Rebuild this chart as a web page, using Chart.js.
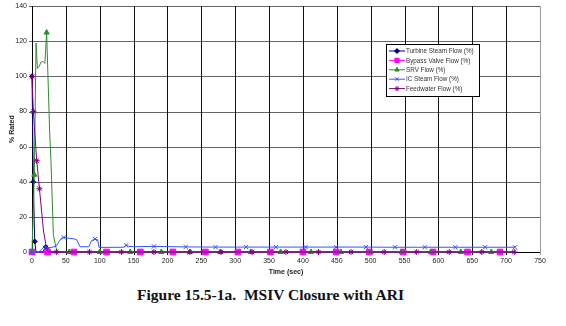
<!DOCTYPE html>
<html>
<head>
<meta charset="utf-8">
<script src="https://cdn.jsdelivr.net/npm/chart.js@4/dist/chart.umd.min.js"></script>
<style>
  html, body { margin: 0; padding: 0; background: #fff; }
  #wrap { position: relative; width: 566px; height: 326px; overflow: hidden; }
  #plot { position: absolute; left: 0; top: 0; }
  #caption {
    position: absolute; left: 137px; top: 286px;
    font: bold 15.5px "Liberation Serif", "Times New Roman", serif;
    color: #111; white-space: pre;
  }
</style>
</head>
<body>
<div id="wrap">
  <canvas id="plot" width="566" height="280"></canvas>
  <div id="caption">Figure 15.5-1a.  MSIV Closure with ARI</div>
</div>
<script>
// time in seconds, flow in % rated; *Marks = samples that get a marker
const turbineTime = [0, 2, 4, 6, 16, 20, 24, 28, 712];
const turbineFlow = [100, 40, 6, 0, 0, 2.8, 2.5, 0, 0];
const turbineMarks = [0, 2, 4, 20];

const bypassTime = [0, 23, 62, 110, 160, 208, 256, 304, 352, 400, 449, 498, 548, 592, 643, 691, 712];
const bypassFlow = [0, 0, 0, 0, 0, 0, 0, 0, 0, 0, 0, 0, 0, 0, 0, 0, 0];
const bypassMarks = [0, 23, 62, 110, 160, 208, 256, 304, 352, 400, 449, 498, 548, 592, 643, 691];

const srvTime = [0, 3.4, 6, 8, 11, 13, 16, 19, 21.6, 26, 28, 31.5, 35, 38, 55, 100, 145, 191, 233, 278, 323, 367, 412, 456, 500, 546, 589, 633, 678, 712];
const srvFlow = [0, 44, 119, 104.5, 106, 108, 108.6, 107.4, 125, 69, 52, 10, 3, 0, 0, 0, 0, 0, 0, 0, 0, 0, 0, 0, 0, 0, 0, 0, 0, 0];
const srvMarks = [0, 3.4, 21.6, 55, 100, 145, 191, 233, 278, 323, 367, 412, 456, 500, 546, 589, 633, 678];

const icTime = [0, 10, 14, 18, 20.7, 25, 31, 36, 40, 44, 47, 55, 62, 66, 71, 84, 88, 93, 97, 99, 135, 139, 143, 150, 180, 227, 271, 316, 360, 404, 449, 493, 536, 580, 625, 669, 713];
const icFlow = [0, 0, 1.5, 3, 2.8, 2.4, 2.8, 3.5, 6, 8, 8.3, 7.8, 7.5, 7, 3, 3, 6.5, 7.4, 7, 2.6, 2.7, 3.8, 3.2, 3.0, 3.2, 2.9, 2.8, 2.8, 2.8, 2.8, 2.8, 2.8, 2.7, 2.7, 2.7, 2.7, 2.7];
const icMarks = [0, 20.7, 47, 93, 139, 180, 227, 271, 316, 360, 404, 449, 493, 536, 580, 625, 669, 713];

const feedTime = [0, 2, 7, 11, 17, 21, 24, 36, 85, 132, 180, 233, 279, 325, 375, 423, 471, 520, 568, 616, 664, 712];
const feedFlow = [100, 80, 52, 36, 12, 3, 0, 0, 0, 0, 0, 0, 0, 0, 0, 0, 0, 0, 0, 0, 0, 0];
const feedMarks = [0, 2, 7, 11, 36, 85, 132, 180, 233, 279, 325, 375, 423, 471, 520, 568, 616, 664, 712];

const seriesNames = ["Turbine Steam Flow (%)", "Bypass Valve Flow (%)", "SRV Flow (%)", "IC Steam Flow (%)", "Feedwater Flow (%)"];
const yRange = [0, 140, 20]; // min, max, step
const xRange = [0, 750, 50];

const TICK_FONT = { family: "Arial, 'Liberation Sans', sans-serif", size: 7 };

function pts(ts, vs) {
  return ts.map((t, i) => ({ x: t, y: vs[i] }));
}

// later series sit on top, like the spreadsheet did it
function series(idx, ts, vs, marks, color, style, r) {
  const marked = new Set(marks);
  return {
    label: seriesNames[idx],
    data: pts(ts, vs),
    order: 10 - idx,
    borderColor: color,
    backgroundColor: color,
    borderWidth: 1,
    pointStyle: style,
    pointBorderWidth: 1,
    pointRadius: (ctx) => (marked.has(ts[ctx.dataIndex]) ? r : 0),
    pointHoverRadius: 0,
    tension: 0,
    fill: false,
    clip: false,
  };
}

const datasets = [
  series(0, turbineTime, turbineFlow, turbineMarks, "#000080", "rectRot", 2.5),
  series(1, bypassTime, bypassFlow, bypassMarks, "#FF00FF", "rect", 4),
  series(2, srvTime, srvFlow, srvMarks, "#2E8B2E", "triangle", 3),
  series(3, icTime, icFlow, icMarks, "#3355FF", "crossRot", 3),
  series(4, feedTime, feedFlow, feedMarks, "#800080", "star", 3),
];

// grid lines + tick marks, placed from the scales' own ticks and range
const plotGrid = {
  id: "plotGrid",
  beforeDatasetsDraw(chart) {
    const { ctx, scales } = chart;
    const sx = scales.x, sy = scales.y;
    const px = (v) => Math.round(v) + 0.5;
    const top = sy.getPixelForValue(yRange[1]);
    const bottom = sy.getPixelForValue(yRange[0]);
    const left = sx.getPixelForValue(xRange[0]);
    const right = sx.getPixelForValue(xRange[1]);
    ctx.save();
    ctx.lineWidth = 1;
    sy.ticks.forEach((t) => {
      const y = px(sy.getPixelForValue(t.value));
      ctx.strokeStyle = "#666";
      ctx.beginPath();
      ctx.moveTo(left - 3, y);
      ctx.lineTo(right, y);
      ctx.stroke();
    });
    sx.ticks.forEach((t) => {
      const x = px(sx.getPixelForValue(t.value));
      ctx.strokeStyle = t.value === xRange[1] ? "#999" : "#111";
      ctx.beginPath();
      ctx.moveTo(x, top);
      ctx.lineTo(x, bottom + 3);
      ctx.stroke();
    });
    // axis lines
    ctx.strokeStyle = "#000";
    ctx.beginPath();
    ctx.moveTo(px(left), top);
    ctx.lineTo(px(left), bottom);
    ctx.lineTo(right, px(bottom));
    ctx.stroke();
    ctx.restore();
  },
};

// boxed legend sitting inside the plot, drawn by hand
const boxLegend = {
  id: "boxLegend",
  afterDraw(chart) {
    const ctx = chart.ctx;
    const x0 = 386, y0 = 44, w = 93, h = 52;
    ctx.save();
    ctx.fillStyle = "#fff";
    ctx.fillRect(x0, y0, w, h);
    ctx.strokeStyle = "#000";
    ctx.lineWidth = 1;
    ctx.strokeRect(x0 + 0.5, y0 + 0.5, w, h);
    ctx.font = "6.3px Arial, 'Liberation Sans', sans-serif";
    ctx.textBaseline = "middle";
    chart.data.datasets.forEach((ds, i) => {
      const y = y0 + 7 + i * 9.4;
      ctx.strokeStyle = ds.borderColor;
      ctx.fillStyle = ds.backgroundColor;
      ctx.lineWidth = 1;
      ctx.beginPath();
      ctx.moveTo(x0 + 3, y);
      ctx.lineTo(x0 + 19, y);
      ctx.stroke();
      Chart.helpers.drawPoint(ctx, {
        pointStyle: ds.pointStyle, radius: ds.pointStyle === "rect" ? 3 : 2.5, rotation: 0, borderWidth: 1,
      }, x0 + 11, y);
      ctx.fillStyle = "#333";
      ctx.fillText(ds.label, x0 + 20, y + 0.5);
    });
    ctx.restore();
  },
};

const HIDDEN = "rgba(0,0,0,0)";

new Chart(document.getElementById("plot"), {
  type: "line",
  data: { datasets },
  options: {
    responsive: false,
    animation: false,
    layout: { padding: { left: 0, right: 26, top: 5, bottom: 0 } },
    plugins: { legend: { display: false }, tooltip: { enabled: false } },
    scales: {
      x: {
        type: "linear",
        min: xRange[0],
        max: xRange[1],
        afterFit: (s) => { s.height = 28; },
        ticks: { stepSize: xRange[2], font: TICK_FONT, color: "#222", padding: 2, maxRotation: 0, autoSkip: false },
        grid: { color: HIDDEN, tickLength: 3 },
        border: { color: HIDDEN },
        title: {
          display: true,
          text: "Time (sec)",
          font: { ...TICK_FONT, weight: "bold" },
          color: "#222",
          padding: { top: 0, bottom: 4 },
        },
      },
      y: {
        type: "linear",
        min: yRange[0],
        max: yRange[1],
        afterFit: (s) => { s.width = 32; },
        ticks: { stepSize: yRange[2], font: TICK_FONT, color: "#222", padding: 2, autoSkip: false },
        grid: { color: HIDDEN, tickLength: 3 },
        border: { color: HIDDEN },
        title: {
          display: true,
          text: "% Rated",
          font: { ...TICK_FONT, weight: "bold" },
          color: "#222",
          padding: { top: 8, bottom: 0 },
        },
      },
    },
  },
  plugins: [plotGrid, boxLegend],
});
</script>
</body>
</html>
